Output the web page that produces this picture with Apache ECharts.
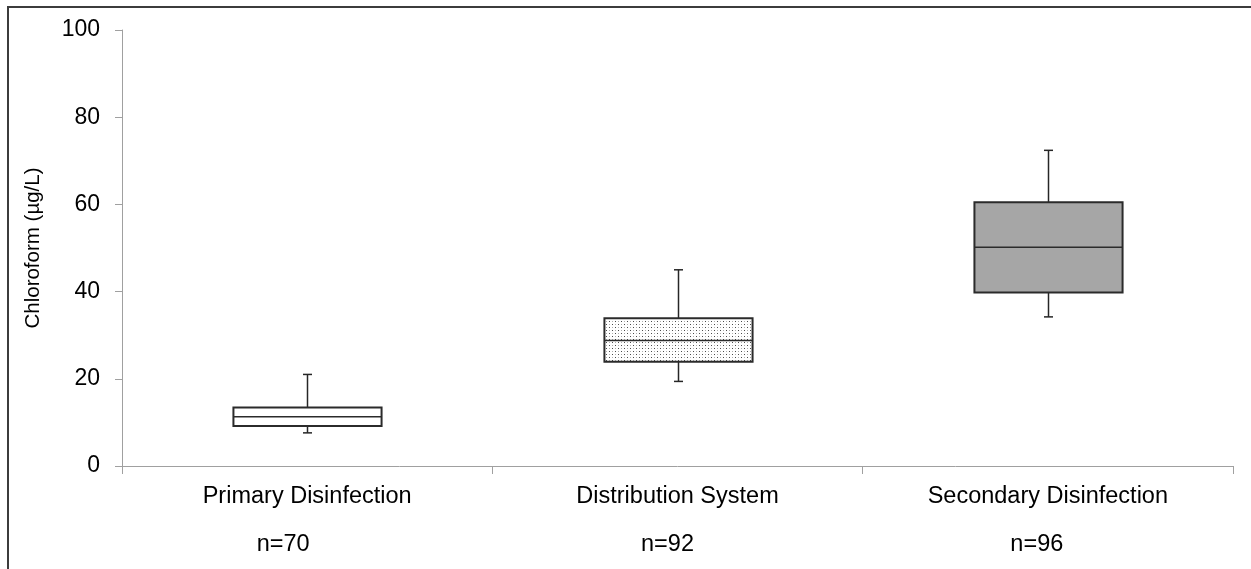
<!DOCTYPE html>
<html>
<head>
<meta charset="utf-8">
<title>Chloroform by sampling location</title>
<script src="https://cdn.jsdelivr.net/npm/echarts@6/dist/echarts.min.js"></script>
<style>
  html, body { margin: 0; padding: 0; background: #ffffff; }
  #chart { width: 1251px; height: 569px; }
</style>
</head>
<body>
<div id="chart"></div>
<script>
// Sampling locations and the number of samples at each
const categories = ['Primary Disinfection', 'Distribution System', 'Secondary Disinfection'];
const sampleSizes = [70, 92, 96];

// Box statistics for chloroform (µg/L)
const lowerWhisker  = [7.6, 19.4, 34.2];
const firstQuartile = [9.2, 23.9, 39.8];
const median        = [11.3, 28.8, 50.2];
const thirdQuartile = [13.4, 33.9, 60.5];
const upperWhisker  = [21.0, 45.0, 72.4];

// Y axis ticks
const yTicks = [0, 20, 40, 60, 80, 100];

const FONT = '"Liberation Sans", Arial, Helvetica, sans-serif';

// Horizontal nudge (px) of each "n=" caption relative to its category centre
const countLabelNudge = [-24, -10, -11];

// Stippled fill for the middle box
function makeStipple() {
  const c = document.createElement('canvas');
  c.width = 6; c.height = 6;
  const g = c.getContext('2d');
  g.fillStyle = '#ffffff';
  g.fillRect(0, 0, 6, 6);
  g.fillStyle = '#4a4a4a';
  g.fillRect(0, 0, 1, 1);
  g.fillRect(3, 3, 1, 1);
  g.fillStyle = '#b0b0b0';
  g.fillRect(3, 0, 1, 1);
  g.fillRect(0, 3, 1, 1);
  return c;
}

const boxFills = ['#ffffff', { image: makeStipple(), repeat: 'repeat' }, '#a6a6a6'];

const boxData = categories.map((c, i) => [
  i, lowerWhisker[i], firstQuartile[i], median[i], thirdQuartile[i], upperWhisker[i]
]);

const chart = echarts.init(document.getElementById('chart'), null, { renderer: 'canvas' });

function renderBox(params, api) {
  const idx = api.value(0);
  const band = api.size([1, 0])[0];
  const boxW = band * 0.4;
  const capW = 9;
  const pLow = api.coord([idx, api.value(1)]);
  const pQ1 = api.coord([idx, api.value(2)]);
  const pMed = api.coord([idx, api.value(3)]);
  const pQ3 = api.coord([idx, api.value(4)]);
  const pHigh = api.coord([idx, api.value(5)]);
  const cx = Math.round(pMed[0]) + 0.5;
  const left = cx - boxW / 2;
  const right = cx + boxW / 2;
  const lineStyle = { stroke: '#262626', lineWidth: 1.5 };
  const boxStroke = { stroke: '#2b2b2b', lineWidth: 2 };
  return {
    type: 'group',
    children: [
      { type: 'line', shape: { x1: cx, y1: pHigh[1], x2: cx, y2: pQ3[1] }, style: lineStyle },
      { type: 'line', shape: { x1: cx - capW / 2, y1: pHigh[1], x2: cx + capW / 2, y2: pHigh[1] }, style: lineStyle },
      { type: 'line', shape: { x1: cx, y1: pQ1[1], x2: cx, y2: pLow[1] }, style: lineStyle },
      { type: 'line', shape: { x1: cx - capW / 2, y1: pLow[1], x2: cx + capW / 2, y2: pLow[1] }, style: lineStyle },
      {
        type: 'rect',
        shape: { x: left, y: pQ3[1], width: boxW, height: pQ1[1] - pQ3[1] },
        style: Object.assign({ fill: boxFills[idx] }, boxStroke)
      },
      { type: 'line', shape: { x1: left, y1: pMed[1], x2: right, y2: pMed[1] }, style: { stroke: '#2b2b2b', lineWidth: 1.5 } }
    ]
  };
}

// Rich-text styles: one for the category name, one per "n=" caption
const richStyles = {
  a: { fontSize: 23.5, lineHeight: 26, fontFamily: FONT, color: '#000000' }
};
countLabelNudge.forEach((dx, i) => {
  richStyles['n' + i] = {
    fontSize: 23.5, lineHeight: 70, fontFamily: FONT, color: '#000000',
    padding: dx < 0 ? [0, -2 * dx, 0, 0] : [0, 0, 0, 2 * dx]
  };
});

chart.setOption({
  animation: false,
  backgroundColor: '#ffffff',
  textStyle: { fontFamily: FONT },
  grid: { left: 122, right: 18, top: 30, bottom: 103, containLabel: false },
  graphic: [
    {
      type: 'polyline',
      shape: { points: [[8, 569], [8, 7], [1251, 7]] },
      style: { stroke: '#3c3c3c', lineWidth: 2, fill: null }
    }
  ],
  xAxis: {
    type: 'category',
    data: categories,
    boundaryGap: true,
    axisLine: { lineStyle: { color: '#a0a0a0', width: 1 } },
    axisTick: { show: true, length: 8, alignWithLabel: false, lineStyle: { color: '#a0a0a0' } },
    splitLine: { show: false },
    axisLabel: {
      interval: 0,
      margin: 18,
      color: '#000000',
      fontFamily: FONT,
      formatter: (value, i) => '{a|' + value + '}\n{n' + i + '|n=' + sampleSizes[i] + '}',
      rich: richStyles
    }
  },
  yAxis: {
    type: 'value',
    min: yTicks[0],
    max: yTicks[yTicks.length - 1],
    interval: yTicks[1] - yTicks[0],
    name: 'Chloroform (µg/L)',
    nameLocation: 'middle',
    nameGap: 78,
    nameRotate: 90,
    nameTextStyle: { fontSize: 20.5, color: '#000000', fontFamily: FONT },
    axisLine: { show: true, lineStyle: { color: '#a0a0a0', width: 1 } },
    axisTick: { show: true, length: 7, lineStyle: { color: '#a0a0a0' } },
    splitLine: { show: false },
    axisLabel: { margin: 22, fontSize: 23, color: '#000000', fontFamily: FONT }
  },
  series: [
    {
      type: 'custom',
      renderItem: renderBox,
      encode: { x: 0, y: [1, 2, 3, 4, 5] },
      data: boxData
    }
  ]
});
</script>
</body>
</html>
